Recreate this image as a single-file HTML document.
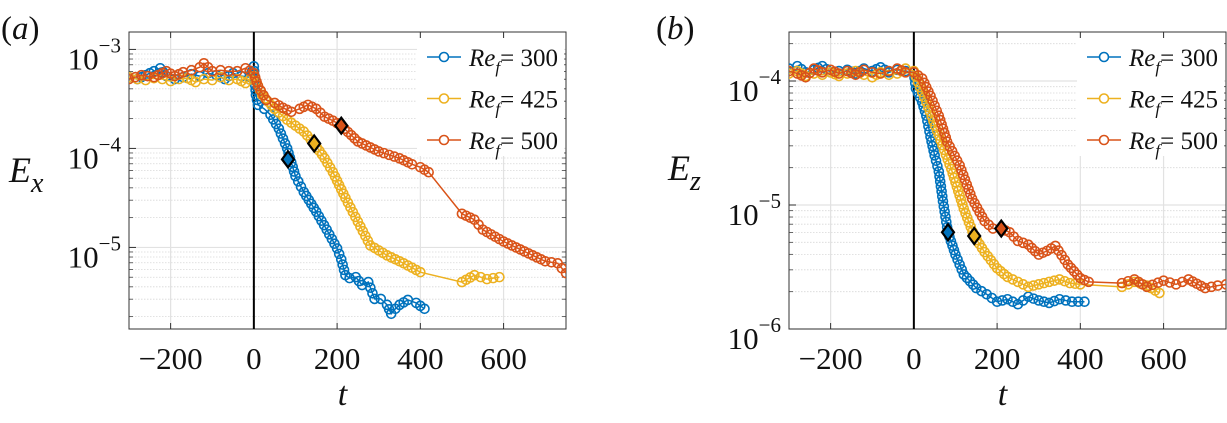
<!DOCTYPE html>
<html><head><meta charset="utf-8"><style>
html,body{margin:0;padding:0;background:#fff;width:1227px;height:423px;overflow:hidden}
svg{display:block}
svg text, svg tspan{font-family:"Liberation Serif","Times New Roman","DejaVu Serif",serif !important;fill:#111}
</style></head><body>
<svg id="chart" width="1227" height="423" font-family="Liberation Serif, Times New Roman, serif" xmlns="http://www.w3.org/2000/svg"></svg>
<script>
// ---------- data (log10 of energy) ----------
const tA300 = [-300,-280,-260,-240,-225,-210,-190,-170,-150,-130,-110,-90,-70,-50,-30,-10,0,5,10,25,40,60,80,100,120,150,175,200,210,220,230,245,260,275,290,305,320,330,340,350,370,390,410];
const eA300 = [-3.28,-3.30,-3.26,-3.22,-3.19,-3.27,-3.30,-3.28,-3.25,-3.27,-3.24,-3.26,-3.30,-3.24,-3.27,-3.28,-3.17,-3.46,-3.56,-3.60,-3.66,-3.80,-4.00,-4.28,-4.44,-4.64,-4.82,-5.01,-5.12,-5.28,-5.31,-5.30,-5.38,-5.35,-5.52,-5.52,-5.58,-5.67,-5.62,-5.58,-5.53,-5.56,-5.62];
const tA425 = [-300,-280,-260,-240,-220,-200,-180,-160,-140,-120,-100,-80,-60,-40,-20,0,20,50,80,120,145,170,190,220,250,280,320,360,400,500,530,560,590];
const eA425 = [-3.28,-3.30,-3.31,-3.29,-3.30,-3.32,-3.30,-3.29,-3.33,-3.30,-3.31,-3.28,-3.31,-3.30,-3.34,-3.27,-3.46,-3.60,-3.71,-3.83,-3.95,-4.10,-4.24,-4.50,-4.74,-4.98,-5.08,-5.16,-5.25,-5.35,-5.28,-5.32,-5.30];
const tA500 = [-300,-270,-240,-210,-190,-170,-150,-130,-120,-100,-80,-60,-40,-20,0,10,30,50,70,90,110,130,150,170,190,210,250,300,350,380,400,420,500,530,550,600,650,680,700,730,750];
const eA500 = [-3.30,-3.26,-3.28,-3.22,-3.27,-3.23,-3.21,-3.18,-3.14,-3.22,-3.21,-3.22,-3.22,-3.19,-3.24,-3.37,-3.51,-3.54,-3.59,-3.63,-3.60,-3.56,-3.60,-3.68,-3.72,-3.77,-3.93,-4.03,-4.10,-4.16,-4.19,-4.24,-4.66,-4.72,-4.82,-4.94,-5.04,-5.10,-5.14,-5.16,-5.26];
const tB300 = [-300,-280,-260,-240,-220,-200,-180,-160,-140,-120,-100,-80,-60,-40,-20,0,5,20,30,40,50,60,70,82,100,120,150,175,200,225,250,275,300,325,350,380,410];
const eB300 = [-3.90,-3.88,-3.93,-3.91,-3.88,-3.93,-3.92,-3.91,-3.94,-3.90,-3.92,-3.89,-3.93,-3.91,-3.92,-3.93,-4.06,-4.17,-4.28,-4.45,-4.60,-4.73,-4.97,-5.22,-5.40,-5.56,-5.67,-5.72,-5.78,-5.76,-5.80,-5.74,-5.77,-5.79,-5.76,-5.78,-5.78];
const tB425 = [-300,-280,-260,-240,-220,-200,-180,-160,-140,-120,-100,-80,-60,-40,-20,0,10,30,60,90,120,145,170,200,225,250,275,300,325,350,375,400,500,530,560,590];
const eB425 = [-3.94,-3.92,-3.96,-3.94,-3.95,-3.93,-3.96,-3.94,-3.92,-3.95,-3.97,-3.93,-3.95,-3.94,-3.90,-3.92,-4.01,-4.17,-4.44,-4.71,-5.03,-5.25,-5.38,-5.51,-5.58,-5.62,-5.66,-5.64,-5.62,-5.60,-5.63,-5.64,-5.66,-5.62,-5.65,-5.71];
const tB500 = [-300,-280,-260,-240,-220,-200,-180,-160,-140,-120,-100,-80,-60,-40,-20,0,20,40,60,80,110,140,170,190,210,230,250,275,300,320,340,370,400,420,500,530,560,600,630,660,700,730,750];
const eB500 = [-3.92,-3.94,-3.97,-3.90,-3.93,-3.91,-3.94,-3.92,-3.95,-3.91,-3.93,-3.94,-3.92,-3.90,-3.93,-3.93,-3.98,-4.12,-4.28,-4.49,-4.68,-4.95,-5.13,-5.19,-5.19,-5.22,-5.29,-5.32,-5.40,-5.37,-5.33,-5.48,-5.59,-5.62,-5.63,-5.60,-5.66,-5.61,-5.64,-5.60,-5.67,-5.65,-5.64];
const diamondsTA = [82, 145, 210];
const diamondsEA = [-4.11, -3.95, -3.77];
const diamondsTB = [82, 145, 210];
const diamondsEB = [-5.22, -5.25, -5.19];
const xTicks = [-200, 0, 200, 400, 600];
const yTicksA = [-3, -4, -5];
const yTicksB = [-4, -5, -6];
const legendLabels = ["300", "425", "500"];
const colors = ["#0072BD", "#EDB120", "#D95319"];

const NS = "http://www.w3.org/2000/svg";
const svg = document.getElementById("chart");
const FONT = "Liberation Serif, Times New Roman, serif";
function mk(tag, attrs, parent) {
  const e = document.createElementNS(NS, tag);
  for (const k in attrs) e.setAttribute(k, attrs[k]);
  if (tag === "text") e.setAttribute("font-family", FONT);
  (parent || svg).appendChild(e);
  return e;
}

function panel(cfg) {
  const g = mk("g", {});
  
  
  const L = cfg.left, R = cfg.right, T = 32, B = 329;
  const xs = t => L + (t + 300) / 1050 * (R - L);
  const ys = v => B - (v - cfg.ymin) / (cfg.ymax - cfg.ymin) * (B - T);
  for (let d = Math.floor(cfg.ymin); d < cfg.ymax; d++) {
    for (let m = 2; m <= 9; m++) {
      const v = d + Math.log10(m);
      if (v <= cfg.ymin || v >= cfg.ymax) continue;
      const y = ys(v);
      const ln = mk("line", {x1: L, x2: R, y1: y, y2: y, stroke: "#d8d8d8", "stroke-width": 0.8, "stroke-dasharray": "1.5,1.5"}, g);
      
      
      mk("line", {x1: L, x2: L + 4, y1: y, y2: y, stroke: "#444", "stroke-width": 0.8}, g);
      mk("line", {x1: R, x2: R - 4, y1: y, y2: y, stroke: "#444", "stroke-width": 0.8}, g);
    }
  }
  cfg.yTicks.forEach(v => {
    const y = ys(v);
    const ln = mk("line", {x1: L, x2: R, y1: y, y2: y, stroke: "#e2e2e2", "stroke-width": 1.2}, g);
    
    
    mk("line", {x1: L, x2: L + 7, y1: y, y2: y, stroke: "#333", "stroke-width": 1}, g);
    const tx = mk("text", {x: L - 8, y: y + 20, "text-anchor": "end", "font-size": 31}, g);
    
    
    tx.textContent = "10";
    const sp = mk("tspan", {dy: -17, "font-size": 21}, tx);
    sp.textContent = "\u2212" + Math.abs(v);
  });
  xTicks.forEach(t => {
    const x = xs(t);
    const ln = mk("line", {x1: x, x2: x, y1: T, y2: B, stroke: "#e2e2e2", "stroke-width": 1.2}, g);
    
    
    mk("line", {x1: x, x2: x, y1: B, y2: B - 6, stroke: "#333", "stroke-width": 1}, g);
    mk("line", {x1: x, x2: x, y1: T, y2: T + 6, stroke: "#333", "stroke-width": 1}, g);
    const tx = mk("text", {x: x, y: 369, "text-anchor": "middle", "font-size": 31}, g);
    
    
    tx.textContent = t < 0 ? "\u2212" + Math.abs(t) : String(t);
  });
  const bx = mk("rect", {x: L, y: T, width: R - L, height: B - T, fill: "none", stroke: "#333", "stroke-width": 1}, g);
  
  
  const zl = mk("line", {x1: xs(0), x2: xs(0), y1: T, y2: B, stroke: "#000", "stroke-width": 2}, g);
  
  
  const clip = mk("clipPath", {id: "clip" + cfg.name}, g);
  mk("rect", {x: L, y: T, width: R - L, height: B - T}, clip);
  cfg.series.forEach((s, i) => {
    const sg = mk("g", {"clip-path": "url(#clip" + cfg.name + ")"}, g);
    
    
    const pts = s.t.map((t, k) => [xs(t), ys(s.e[k])]);
    const pl = mk("polyline", {points: pts.map(p => p.join(",")).join(" "), fill: "none", stroke: colors[i], "stroke-width": 1.5}, sg);
    
    
    for (let k = 0; k < pts.length; k++) {
      const c = mk("circle", {cx: pts[k][0], cy: pts[k][1], r: 4.5, fill: "none", stroke: colors[i], "stroke-width": 1.6}, sg);
      
      
      if (k < pts.length - 1 && s.t[k + 1] - s.t[k] < 60) {
        const dx = pts[k + 1][0] - pts[k][0], dy = pts[k + 1][1] - pts[k][1];
        const n = Math.floor(Math.hypot(dx, dy) / 4.5);
        for (let j = 1; j < n; j++) {
          mk("circle", {cx: pts[k][0] + dx * j / n, cy: pts[k][1] + dy * j / n, r: 4.5, fill: "none", stroke: colors[i], "stroke-width": 1.6}, sg);
        }
      }
    }
  });
  cfg.dT.forEach((t, i) => {
    const x = xs(t), y = ys(cfg.dE[i]);
    const d = mk("polygon", {points: `${x},${y-8} ${x+6},${y} ${x},${y+8} ${x-6},${y}`, fill: colors[i], stroke: "#000", "stroke-width": 2.2}, g);
    
    
  });
  const lg = mk("g", {}, g);
  
  
  mk("rect", {x: cfg.legX - 10, y: 38, width: R - cfg.legX + 8, height: 118, fill: "#fff"}, lg);
  legendLabels.forEach((lab, i) => {
    const y = 57 + i * 41.5;
    const e = mk("g", {}, lg);
    
    
    mk("line", {x1: cfg.legX, x2: cfg.legX + 34, y1: y, y2: y, stroke: colors[i], "stroke-width": 1.6}, e);
    mk("circle", {cx: cfg.legX + 17, cy: y, r: 4.5, fill: "#fff", stroke: colors[i], "stroke-width": 1.6}, e);
    const tx = mk("text", {x: cfg.legX + 42, y: y + 9, "font-size": 25}, e);
    const a = mk("tspan", {"font-style": "italic"}, tx); a.textContent = "Re";
    const b = mk("tspan", {"font-style": "italic", "font-size": 17, dy: 7}, tx); b.textContent = "f";
    const c = mk("tspan", {dy: -7}, tx); c.textContent = "= " + lab;
  });
  const pl = mk("text", {x: cfg.tagX, y: 39, "font-size": 33}, g);
  
  
  pl.textContent = "(";
  const it = mk("tspan", {"font-style": "italic"}, pl); it.textContent = cfg.tag;
  const cl = mk("tspan", {}, pl); cl.textContent = ")";
  const yl = mk("text", {x: cfg.ylabX, y: cfg.ylabY, "font-size": 36, "font-style": "italic"}, g);
  
  
  yl.textContent = "E";
  const sub = mk("tspan", {"font-size": 28, dy: 10}, yl); sub.textContent = cfg.sub;
  const xl = mk("text", {x: (L + R) / 2 - 5, y: 405, "font-size": 34, "font-style": "italic", "text-anchor": "middle"}, g);
  
  
  xl.textContent = "t";
}

panel({name: "panel-a", left: 129, right: 566, ymin: Math.log10(1.5e-6), ymax: Math.log10(1.5e-3),
  yTicks: yTicksA, series: [{t: tA300, e: eA300}, {t: tA425, e: eA425}, {t: tA500, e: eA500}],
  dT: diamondsTA, dE: diamondsEA, legX: 427, tag: "a", tagX: 1, sub: "x", ylabX: 9, ylabY: 182});
panel({name: "panel-b", left: 789, right: 1226, ymin: -6, ymax: -6 + (329 - 32) / 124,
  yTicks: yTicksB, series: [{t: tB300, e: eB300}, {t: tB425, e: eB425}, {t: tB500, e: eB500}],
  dT: diamondsTB, dE: diamondsEB, legX: 1087, tag: "b", tagX: 656, sub: "z", ylabX: 668, ylabY: 180});
</script>
</body></html>
